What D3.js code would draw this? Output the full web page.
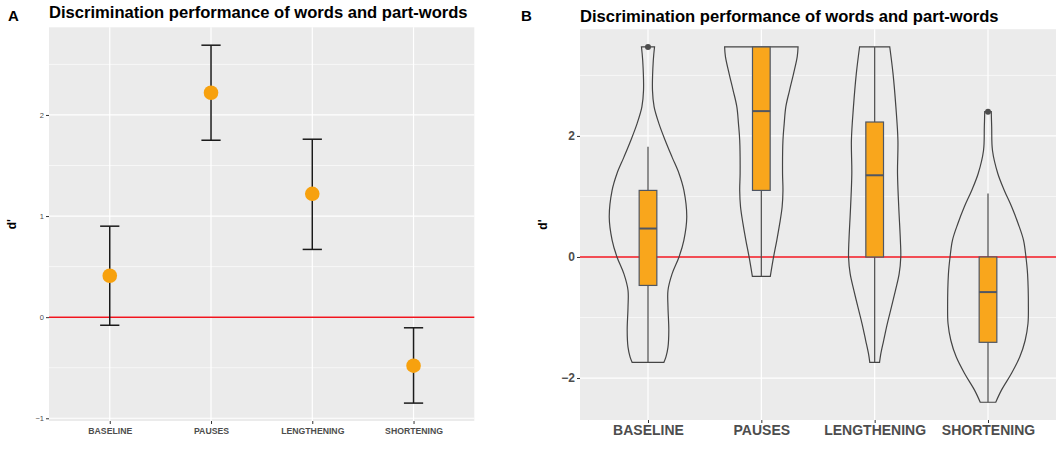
<!DOCTYPE html>
<html>
<head>
<meta charset="utf-8">
<script src="https://cdn.jsdelivr.net/npm/d3@7"></script>
<style>
  body { margin: 0; background: #fff; }
  text { font-family: "Liberation Sans", Arial, sans-serif; }
</style>
</head>
<body>
<div id="chart"></div>
<script>
// categories and values
var categories = ["BASELINE", "PAUSES", "LENGTHENING", "SHORTENING"];

// panel A: mean d' with confidence interval
var meanDprime = [0.41, 2.22, 1.22, -0.48];
var ciLower = [-0.08, 1.75, 0.67, -0.85];
var ciUpper = [0.90, 2.69, 1.76, -0.105];
var ticksA = [-1, 0, 1, 2];
var minorTicksA = [-0.5, 0.5, 1.5, 2.5];

// panel B: box plot stats
var whiskerLow = [-1.74, -0.32, -1.74, -2.40];
var q1 = [-0.47, 1.10, 0.00, -1.41];
var medians = [0.47, 2.41, 1.35, -0.58];
var q3 = [1.10, 3.47, 2.23, 0.00];
var whiskerHigh = [1.82, 3.47, 3.47, 1.05];
var outliers = [[3.47], [], [], [2.40]];
var ticksB = [-2, 0, 2];
var minorTicksB = [-1, 1, 3];

// violin density profiles [d', relative density]
var violinBaseline = [[3.47, 0.16], [3.25, 0.13], [2.75, 0.11], [2.48, 0.15], [2.20, 0.27], [1.93, 0.42],
  [1.65, 0.59], [1.38, 0.76], [1.10, 0.88], [0.66, 0.95], [0.28, 0.88], [0.00, 0.76], [-0.28, 0.59],
  [-0.55, 0.49], [-0.83, 0.49], [-1.21, 0.51], [-1.49, 0.49], [-1.65, 0.44], [-1.74, 0.39]];
var violinPauses = [[3.47, 0.90], [3.31, 0.88], [3.03, 0.79], [2.75, 0.69], [2.48, 0.60], [2.20, 0.56],
  [1.93, 0.53], [1.38, 0.52], [1.10, 0.53], [0.83, 0.51], [0.55, 0.45], [0.28, 0.38], [0.00, 0.30],
  [-0.32, 0.22]];
var violinLengthening = [[3.47, 0.37], [3.03, 0.45], [2.48, 0.52], [1.93, 0.57], [1.38, 0.56], [0.83, 0.59],
  [0.28, 0.63], [0.00, 0.64], [-0.28, 0.60], [-0.55, 0.51], [-0.83, 0.41], [-1.10, 0.31], [-1.38, 0.22],
  [-1.60, 0.15], [-1.74, 0.12]];
var violinShortening = [[2.40, 0.08], [2.15, 0.09], [1.76, 0.11], [1.38, 0.24], [1.10, 0.40], [0.83, 0.58],
  [0.55, 0.74], [0.28, 0.87], [0.00, 0.93], [-0.28, 0.97], [-0.83, 0.99], [-1.10, 0.98], [-1.38, 0.91],
  [-1.65, 0.78], [-1.93, 0.57], [-2.20, 0.33], [-2.40, 0.19]];
var violins = [violinBaseline, violinPauses, violinLengthening, violinShortening];

var title = "Discrimination performance of words and part-words";

var width = 1062;
var height = 459;
var svg = d3.select("#chart")
    .append("svg")
    .attr("width", width)
    .attr("height", height);

var panelBg = "#EBEBEB";
var textGrey = "#4D4D4D";

// ggplot style 5% expansion
function expand(lo, hi) {
  var pad = (hi - lo) * 0.05;
  return [lo - pad, hi + pad];
}

function panel(opt) {
  var g = svg.append("g");
  var x = d3.scalePoint().domain(categories).range([opt.left, opt.right]).padding(0.6);
  var y = d3.scaleLinear().domain(opt.domain).range([opt.bottom, opt.top]);

  g.append("rect")
      .attr("x", opt.left).attr("y", opt.top)
      .attr("width", opt.right - opt.left).attr("height", opt.bottom - opt.top)
      .attr("fill", panelBg);

  g.selectAll(".minor").data(opt.minor).join("line")
      .attr("x1", opt.left).attr("x2", opt.right)
      .attr("y1", d => y(d)).attr("y2", d => y(d))
      .attr("stroke", "#fff").attr("stroke-width", 0.6);
  g.selectAll(".major").data(opt.ticks).join("line")
      .attr("x1", opt.left).attr("x2", opt.right)
      .attr("y1", d => y(d)).attr("y2", d => y(d))
      .attr("stroke", "#fff").attr("stroke-width", 1.2);
  g.selectAll(".vgrid").data(categories).join("line")
      .attr("x1", d => x(d)).attr("x2", d => x(d))
      .attr("y1", opt.top).attr("y2", opt.bottom)
      .attr("stroke", "#fff").attr("stroke-width", 1.2);

  // axes
  var yAxis = g.append("g")
      .attr("transform", `translate(${opt.left},0)`)
      .call(d3.axisLeft(y).tickValues(opt.ticks).tickSize(3).tickPadding(2).tickFormat(d3.format("d")))
      .call(g => g.select(".domain").remove());
  yAxis.selectAll("line").attr("stroke", "#333");
  yAxis.selectAll("text")
      .attr("fill", textGrey)
      .style("font-size", opt.yFont + "px")
      .style("font-weight", opt.yBold ? "bold" : "normal")
      .style("font-family", "'Liberation Sans', Arial, sans-serif");

  var xAxis = g.append("g")
      .attr("transform", `translate(0,${opt.bottom})`)
      .call(d3.axisBottom(x).tickSize(3).tickPadding(opt.xPad))
      .call(g => g.select(".domain").remove());
  xAxis.selectAll("line").attr("stroke", "#333");
  xAxis.selectAll("text")
      .attr("fill", textGrey)
      .style("font-size", opt.xFont + "px")
      .style("font-weight", "bold")
      .style("font-family", "'Liberation Sans', Arial, sans-serif");

  // title, tag, y label
  g.append("text")
      .attr("x", opt.left).attr("y", opt.titleY)
      .style("font-size", "16.6px").style("font-weight", "bold")
      .attr("fill", "#000")
      .text(title);
  g.append("text")
      .attr("x", opt.tagX).attr("y", 20.7)
      .style("font-size", "15px").style("font-weight", "bold")
      .text(opt.tag);
  g.append("text")
      .attr("transform", `translate(${opt.labelX},${(opt.top + opt.bottom) / 2}) rotate(-90)`)
      .attr("text-anchor", "middle")
      .style("font-size", "12px").style("font-weight", "bold")
      .text("d'");

  // zero line
  g.append("line")
      .attr("x1", opt.left).attr("x2", opt.right)
      .attr("y1", y(0)).attr("y2", y(0))
      .attr("stroke", "#F0141E").attr("stroke-width", 1.5);

  return {g: g, x: x, y: y};
}

// panel A
var a = panel({
  left: 49, right: 474.3, top: 27.3, bottom: 421,
  domain: expand(d3.min(ciLower), d3.max(ciUpper)),
  ticks: ticksA, minor: minorTicksA,
  yFont: 7.5, yBold: false, xFont: 8.7, xPad: 4,
  titleY: 18, tag: "A", tagX: 8, labelX: 16
});
var capW = a.x.step() * 0.095;
var errA = a.g.append("g").attr("stroke", "#1a1a1a").attr("stroke-width", 1.5);
errA.selectAll(".stem").data(categories).join("line")
    .attr("x1", d => a.x(d)).attr("x2", d => a.x(d))
    .attr("y1", (d, i) => a.y(ciLower[i])).attr("y2", (d, i) => a.y(ciUpper[i]));
errA.selectAll(".capHi").data(categories).join("line")
    .attr("x1", d => a.x(d) - capW).attr("x2", d => a.x(d) + capW)
    .attr("y1", (d, i) => a.y(ciUpper[i])).attr("y2", (d, i) => a.y(ciUpper[i]));
errA.selectAll(".capLo").data(categories).join("line")
    .attr("x1", d => a.x(d) - capW).attr("x2", d => a.x(d) + capW)
    .attr("y1", (d, i) => a.y(ciLower[i])).attr("y2", (d, i) => a.y(ciLower[i]));
a.g.selectAll(".pt").data(categories).join("circle")
    .attr("cx", d => a.x(d))
    .attr("cy", (d, i) => a.y(meanDprime[i]))
    .attr("r", 7.3)
    .attr("fill", "#F7A10E");

// panel B
var allB = violins.flat().map(d => d[0]);
var b = panel({
  left: 580, right: 1056, top: 29.2, bottom: 420,
  domain: expand(d3.min(allB), d3.max(allB)),
  ticks: ticksB, minor: minorTicksB,
  yFont: 12, yBold: true, xFont: 14, xPad: 2,
  titleY: 21.5, tag: "B", tagX: 521, labelX: 547
});
var w = d3.scaleLinear().domain([0, 1]).range([0, b.x.step() * 0.36]);
var violinArea = d3.area()
    .curve(d3.curveCatmullRom)
    .y(d => b.y(d[0]));
b.g.selectAll(".violin").data(violins).join("path")
    .attr("d", (d, i) => violinArea
        .x0(p => b.x(categories[i]) - w(p[1]))
        .x1(p => b.x(categories[i]) + w(p[1]))(d))
    .attr("fill", "none")
    .attr("stroke", "#444")
    .attr("stroke-width", 1.2);

var boxW = b.x.step() * 0.078;
var boxStroke = "#4f5663";
b.g.selectAll(".whisk").data(categories).join("line")
    .attr("x1", d => b.x(d)).attr("x2", d => b.x(d))
    .attr("y1", (d, i) => b.y(whiskerLow[i])).attr("y2", (d, i) => b.y(whiskerHigh[i]))
    .attr("stroke", "#555").attr("stroke-width", 1.3);
b.g.selectAll(".box").data(categories).join("rect")
    .attr("x", d => b.x(d) - boxW)
    .attr("width", boxW * 2)
    .attr("y", (d, i) => b.y(q3[i]))
    .attr("height", (d, i) => b.y(q1[i]) - b.y(q3[i]))
    .attr("fill", "#F9A61C")
    .attr("stroke", boxStroke).attr("stroke-width", 1.2);
b.g.selectAll(".med").data(categories).join("line")
    .attr("x1", d => b.x(d) - boxW).attr("x2", d => b.x(d) + boxW)
    .attr("y1", (d, i) => b.y(medians[i])).attr("y2", (d, i) => b.y(medians[i]))
    .attr("stroke", boxStroke).attr("stroke-width", 2);
b.g.selectAll(".out").data(categories).join("g")
  .selectAll("circle")
  .data((d, i) => outliers[i].map(v => [d, v]))
  .join("circle")
    .attr("cx", d => b.x(d[0]))
    .attr("cy", d => b.y(d[1]))
    .attr("r", 3)
    .attr("fill", "#4D4D4D");
</script>
</body>
</html>
